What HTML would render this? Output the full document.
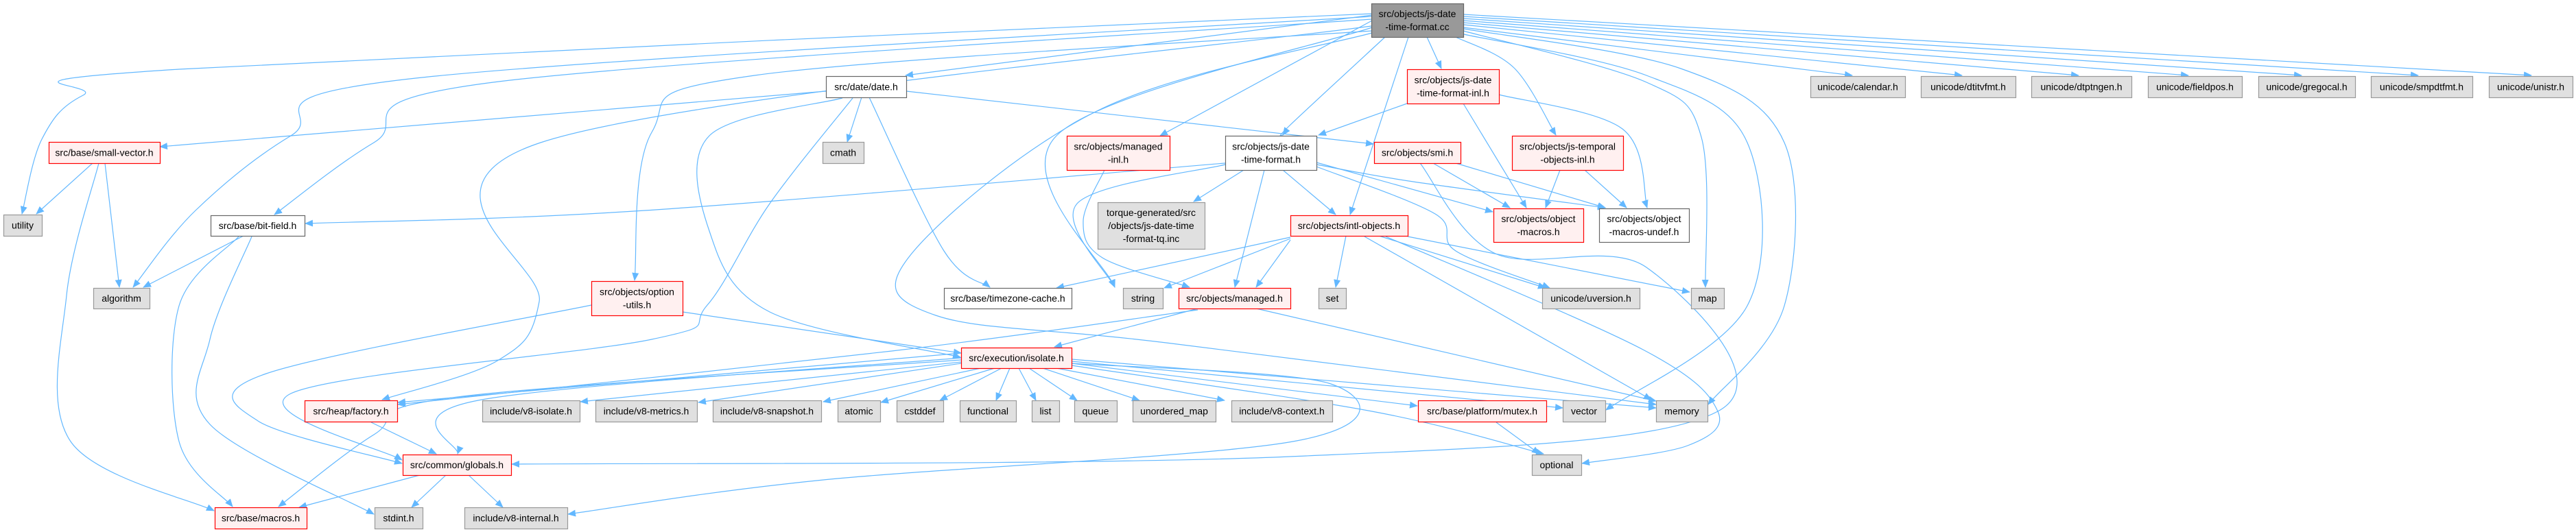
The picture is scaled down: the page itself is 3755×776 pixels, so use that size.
<!DOCTYPE html>
<html><head><meta charset="utf-8">
<style>
html,body{margin:0;padding:0;background:#fff;}
svg{display:block;}
text{font-family:"Liberation Sans",sans-serif;font-size:14px;fill:#000;}
</style></head>
<body>
<svg id="s" width="3755" height="776" viewBox="0 0 3755 776" xmlns="http://www.w3.org/2000/svg">
<defs><marker id="a" markerWidth="12" markerHeight="10" refX="11" refY="5" orient="auto" markerUnits="userSpaceOnUse"><path d="M0,0 L12,5 L0,10 z" fill="#63b8ff"/></marker></defs>
<g id="e" fill="none" stroke="#63b8ff" stroke-width="1.2"></g>
<g id="n"></g>
</svg>
<script>
var N=[
[1999,2133,5,54,'m',['src/objects/js-date','-time-format.cc']],
[71,233,207,238,'r',['src/base/small-vector.h']],
[5,61,313,344,'g',['utility']],
[307,444,314,344,'w',['src/base/bit-field.h']],
[136,218,420,450,'g',['algorithm']],
[862,995,410,460,'r',['src/objects/option','-utils.h']],
[444,579,584,615,'r',['src/heap/factory.h']],
[703,845,584,615,'g',['include/v8-isolate.h']],
[868,1016,584,615,'g',['include/v8-metrics.h']],
[587,745,663,693,'r',['src/common/globals.h']],
[313,447,740,771,'r',['src/base/macros.h']],
[546,616,740,771,'g',['stdint.h']],
[677,827,740,771,'g',['include/v8-internal.h']],
[1204,1321,111,142,'w',['src/date/date.h']],
[1199,1259,207,238,'g',['cmath']],
[1555,1705,198,248,'r',['src/objects/managed','-inl.h']],
[1786,1919,198,248,'w',['src/objects/js-date','-time-format.h']],
[1600,1756,295,363,'g',['torque-generated/src','/objects/js-date-time','-format-tq.inc']],
[1376,1562,420,450,'w',['src/base/timezone-cache.h']],
[1637,1695,420,450,'g',['string']],
[1718,1881,420,450,'r',['src/objects/managed.h']],
[1401,1562,507,537,'r',['src/execution/isolate.h']],
[1039,1197,584,615,'g',['include/v8-snapshot.h']],
[1221,1283,584,615,'g',['atomic']],
[1307,1375,584,615,'g',['cstddef']],
[1399,1481,584,615,'g',['functional']],
[1504,1544,584,615,'g',['list']],
[1566,1628,584,615,'g',['queue']],
[1651,1772,584,615,'g',['unordered_map']],
[1795,1942,584,615,'g',['include/v8-context.h']],
[2051,2185,101,151,'r',['src/objects/js-date','-time-format-inl.h']],
[2003,2129,207,238,'r',['src/objects/smi.h']],
[2204,2366,198,248,'r',['src/objects/js-temporal','-objects-inl.h']],
[2177,2308,304,353,'r',['src/objects/object','-macros.h']],
[2331,2462,304,353,'w',['src/objects/object','-macros-undef.h']],
[1881,2052,314,344,'r',['src/objects/intl-objects.h']],
[1922,1962,420,450,'g',['set']],
[2248,2390,420,450,'g',['unicode/uversion.h']],
[2465,2513,420,450,'g',['map']],
[2067,2254,584,615,'r',['src/base/platform/mutex.h']],
[2278,2340,584,615,'g',['vector']],
[2414,2489,584,615,'g',['memory']],
[2233,2305,663,693,'g',['optional']],
[2639,2777,111,142,'g',['unicode/calendar.h']],
[2800,2938,111,142,'g',['unicode/dtitvfmt.h']],
[2961,3107,111,142,'g',['unicode/dtptngen.h']],
[3131,3268,111,142,'g',['unicode/fieldpos.h']],
[3292,3433,111,142,'g',['unicode/gregocal.h']],
[3456,3604,111,142,'g',['unicode/smpdtfmt.h']],
[3628,3750,111,142,'g',['unicode/unistr.h']]
];
var E=[
[[1999,20],[261,101],[121,139],[61,203],[32,312]],
[[1999,24],[606,114],[424,198],[285,307],[194,419]],
[[1999,28],[727,119],[545,208],[400,313]],
[[1999,38],[788,208],[786,440],[727,525],[557,583]],
[[1204,133],[233,214]],
[[2000,45],[1100,110],[950,193],[925,409]],
[[1786,238],[940,307],[445,326]],
[[862,445],[388,545],[376,614],[586,676]],
[[1243,143],[1122,297],[1031,445],[950,495],[424,574],[586,671]],
[[2070,238],[2180,370],[2400,390],[2504,600],[1880,666],[746,677]],
[[1562,530],[1940,560],[1890,643],[1200,700],[828,750]],
[[1401,522],[697,584],[667,662]],
[[1401,525],[667,579],[545,634],[406,739]],
[[1401,515],[580,587]],
[[1746,452],[1300,512],[580,590]],
[[1401,528],[846,586]],
[[541,616],[636,662]],
[[612,693],[436,740]],
[[650,693],[600,740]],
[[683,693],[733,740]],
[[135,238],[53,312]],
[[153,238],[174,419]],
[[144,238],[97,431],[103,644],[312,745]],
[[355,344],[209,419]],
[[348,345],[261,446],[261,644],[339,739]],
[[367,345],[306,495],[306,619],[545,750]],
[[995,455],[1401,515]],
[[1228,143],[1034,198],[1034,337],[1122,455],[1400,521]],
[[1256,142],[1235,207]],
[[1267,142],[1376,366],[1443,419]],
[[1321,133],[2002,210]],
[[2000,22],[1320,110]],
[[2000,30],[1691,198]],
[[2019,54],[1880,183],[1870,197]],
[[2000,40],[1540,198],[1625,419]],
[[2000,48],[1607,158],[1328,371],[1364,460],[1700,500],[2414,590]],
[[2080,54],[2101,100]],
[[2051,151],[1922,197]],
[[2133,151],[2225,303]],
[[2185,138],[2365,188],[2401,303]],
[[2122,54],[2207,99],[2268,197]],
[[2274,248],[2253,303]],
[[2310,248],[2371,303]],
[[2089,238],[2201,303]],
[[2122,238],[2340,303]],
[[1919,237],[2176,309]],
[[1919,240],[2060,265],[2340,303]],
[[1870,248],[1947,313]],
[[1919,243],[2092,312],[2122,366],[2259,420]],
[[2053,54],[1968,313]],
[[2133,45],[2400,120],[2480,200],[2486,419]],
[[2134,50],[2400,110],[2547,208],[2547,446],[2341,598]],
[[2134,42],[2450,100],[2601,208],[2601,446],[2490,590]],
[[1962,344],[1947,419]],
[[2010,344],[2253,420]],
[[2052,345],[2463,426]],
[[1989,345],[2407,583]],
[[2020,345],[2395,510],[2504,600],[2460,650],[2306,676]],
[[1881,346],[1540,420]],
[[1881,348],[1697,420]],
[[1881,350],[1831,419]],
[[1746,450],[1537,506]],
[[1831,450],[2414,585]],
[[1843,248],[1800,419]],
[[1813,248],[1740,294]],
[[1786,240],[1570,297],[1625,419]],
[[1610,248],[1579,322],[1607,376],[1734,419]],
[[1430,537],[1200,586]],
[[1450,537],[1284,587]],
[[1460,537],[1370,584]],
[[1472,537],[1452,584]],
[[1485,537],[1510,584]],
[[1500,537],[1570,584]],
[[1520,537],[1661,584]],
[[1540,537],[1785,584]],
[[1401,530],[1018,587]],
[[1562,530],[2066,592]],
[[1562,527],[2278,595]],
[[1562,524],[2414,595]],
[[1562,533],[2000,600],[2250,662]],
[[2181,616],[2244,662]],
[[2133,40],[2700,110]],
[[2133,36],[2860,110]],
[[2133,33],[3030,110]],
[[2133,30],[3190,110]],
[[2133,27],[3355,110]],
[[2133,24],[3525,110]],
[[2133,21],[3690,110]]
];
function sm(p){
 if(p.length==2) return 'M'+p[0]+' L'+p[1];
 var d='M'+p[0][0]+','+p[0][1];
 for(var i=0;i<p.length-1;i++){
  var p0=p[i-1]||p[i],p1=p[i],p2=p[i+1],p3=p[i+2]||p2;
  var c1=[p1[0]+(p2[0]-p0[0])/6,p1[1]+(p2[1]-p0[1])/6];
  var c2=[p2[0]-(p3[0]-p1[0])/6,p2[1]-(p3[1]-p1[1])/6];
  d+=' C'+c1+' '+c2+' '+p2;
 }
 return d;
}
var ns='http://www.w3.org/2000/svg',eg=document.getElementById('e'),ng=document.getElementById('n');
E.forEach(function(p){var e=document.createElementNS(ns,'path');e.setAttribute('d',sm(p));e.setAttribute('marker-end','url(#a)');eg.appendChild(e);});
var C={m:['#999999','#666666'],r:['#fff0f0','#ff0000'],g:['#e0e0e0','#999999'],w:['#ffffff','#666666']};
N.forEach(function(n){
 var r=document.createElementNS(ns,'rect');
 r.setAttribute('x',n[0]+0.5);r.setAttribute('y',n[2]+0.5);r.setAttribute('width',n[1]-n[0]);r.setAttribute('height',n[3]-n[2]);
 r.setAttribute('fill',C[n[4]][0]);r.setAttribute('stroke',C[n[4]][1]);r.setAttribute('stroke-width','1.2');ng.appendChild(r);
 var cx=(n[0]+n[1])/2,L=n[5],h=n[3]-n[2],lh=19,y0=n[2]+h/2-(L.length-1)*lh/2+5;
 L.forEach(function(t,i){var tx=document.createElementNS(ns,'text');tx.setAttribute('x',cx);tx.setAttribute('y',y0+i*lh);tx.setAttribute('text-anchor','middle');tx.textContent=t;ng.appendChild(tx);});
});
</script>
</body></html>
